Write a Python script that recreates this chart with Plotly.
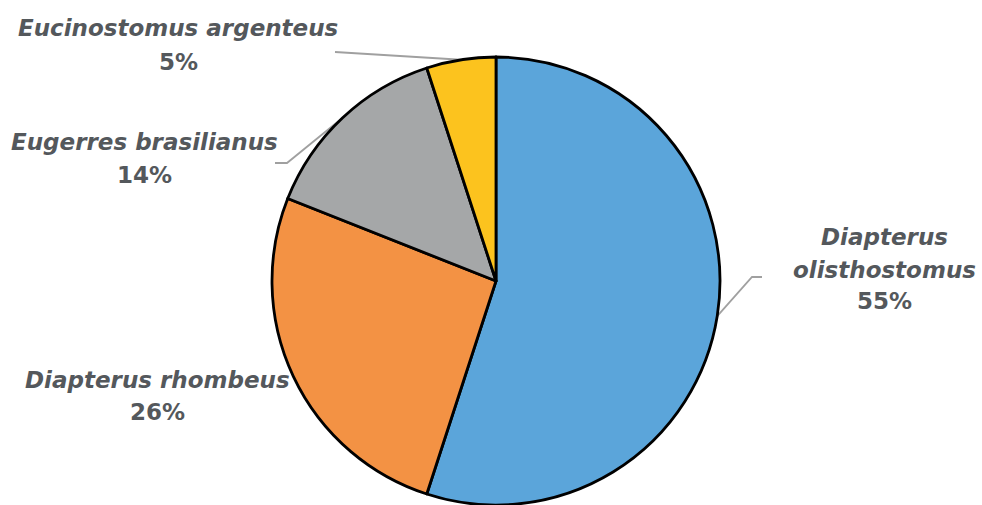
import math
import plotly.graph_objects as go

# Species composition (percent), clockwise from 12 o'clock
genus = ["Diapterus", "Diapterus", "Eugerres", "Eucinostomus"]
species = ["olisthostomus", "rhombeus", "brasilianus", "argenteus"]
shares = [55, 26, 14, 5]
colors = ["#5BA5DA", "#F39244", "#A5A7A8", "#FCC31E"]

W, H = 982, 505
CX, CY, R = 496, 281, 224  # pie centre / radius in pixels

TEXT = "#54585c"
LEAD = "#a0a0a0"
FONT = "DejaVu Sans"


def px(x):
    return x / W


def py(y):
    return 1 - y / H


fig = go.Figure(
    go.Pie(
        labels=[f"{g} {s}" for g, s in zip(genus, species)],
        values=shares,
        sort=False,
        direction="clockwise",
        rotation=0,
        marker=dict(colors=colors, line=dict(color="black", width=2.8)),
        textinfo="none",
        hoverinfo="label+percent",
        domain=dict(x=[px(CX - R), px(CX + R)], y=[py(CY + R), py(CY - R)]),
    )
)


def arc_point(i):
    """Pixel point on the rim at the angular middle of slice i."""
    total = sum(shares)
    start = sum(shares[:i]) / total * 360
    mid = math.radians(start + shares[i] / total * 180)
    return CX + R * math.sin(mid), CY - R * math.cos(mid)


# label layout: (lines, line centres in px, leader-line waypoints in px)
label_layout = {
    0: ([genus[0], species[0]], (884, [237, 270]), [(752, 277), (762, 277)]),
    1: ([f"{genus[1]} {species[1]}"], (157, [380]), None),
    2: ([f"{genus[2]} {species[2]}"], (144, [142]), [(287, 163), (275, 163)]),
    3: ([f"{genus[3]} {species[3]}"], (178, [28]), [(335, 52)]),
}
pct_offset = {0: 31, 1: 32, 2: 33, 3: 34}

annotations = []
shapes = []
for i, (lines, (xc, ys), leader) in label_layout.items():
    for txt, yc in zip(lines, ys):
        annotations.append(dict(
            x=px(xc), y=py(yc), xref="paper", yref="paper",
            text=f"<b><i>{txt}</i></b>", showarrow=False,
            xanchor="center", yanchor="middle",
            font=dict(family=FONT, size=23, color=TEXT),
        ))
    annotations.append(dict(
        x=px(xc), y=py(ys[-1] + pct_offset[i]), xref="paper", yref="paper",
        text=f"<b>{shares[i]}%</b>", showarrow=False,
        xanchor="center", yanchor="middle",
        font=dict(family=FONT, size=23, color=TEXT),
    ))
    if leader:
        pts = [arc_point(i)] + leader
        path = "M " + " L ".join(f"{px(x)},{py(y)}" for x, y in pts)
        shapes.append(dict(type="path", xref="paper", yref="paper", path=path,
                           line=dict(color=LEAD, width=1.8), layer="below"))

fig.update_layout(
    width=W, height=H,
    margin=dict(l=0, r=0, t=0, b=0),
    paper_bgcolor="white", plot_bgcolor="white",
    showlegend=False,
    annotations=annotations,
    shapes=shapes,
)

fig.write_html("out.html")
